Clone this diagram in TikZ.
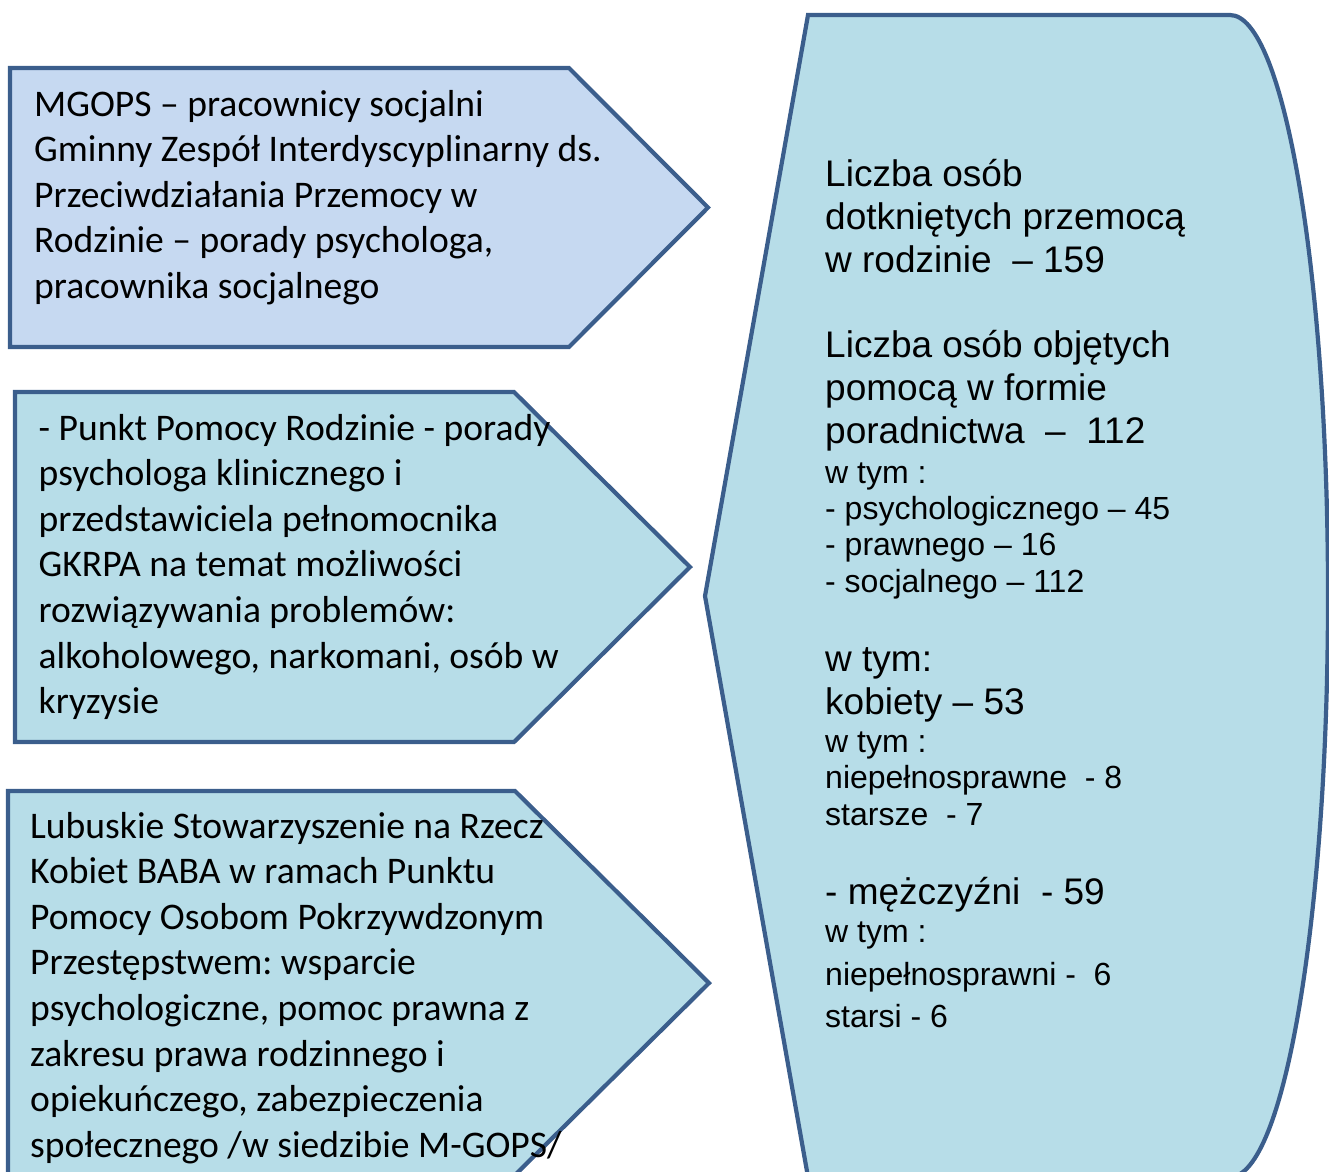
\documentclass[tikz,border=0pt]{standalone}
\usepackage{fontspec}
\setmainfont{Carlito}
\newfontfamily\arialf{Liberation Sans}
\frenchspacing
\definecolor{edgeblue}{RGB}{59,94,140}
\definecolor{fillone}{RGB}{198,217,241}
\definecolor{filltwo}{RGB}{183,221,232}
\tikzset{
  shapebox/.style={draw=edgeblue, line width=4.2pt, line join=miter},
  lefttext/.style={inner sep=0pt, anchor=base west, font=\fontsize{37.6}{45.6}\selectfont},
  bigtext/.style={inner sep=0pt, anchor=base west, font=\arialf\fontsize{37}{43}\selectfont},
  smalltext/.style={inner sep=0pt, anchor=base west, font=\arialf\fontsize{32}{37}\selectfont}
}
\begin{document}
\begin{tikzpicture}[x=1pt,y=1pt]
\useasboundingbox (0,0) rectangle (1329,-1171);
\begin{scope}
\clip (0,0) rectangle (1329,-1171);
% box 1
\draw[shapebox, fill=fillone] (10,-68) -- (569,-68) -- (708,-207.5) -- (569,-347) -- (10,-347) -- cycle;
% box 2
\draw[shapebox, fill=filltwo] (15,-392) -- (514,-392) -- (690,-567) -- (514,-742) -- (15,-742) -- cycle;
% box 3
\draw[shapebox, fill=filltwo] (8,-791) -- (515,-791) -- (709,-983) -- (515,-1175) -- (8,-1175) -- cycle;
% right shape
\draw[shapebox, fill=filltwo] (808,-15) -- (1230,-15) arc[start angle=90, end angle=-90, x radius=98, y radius=581] -- (808,-1177) -- (705,-596) -- cycle;
\end{scope}

\node[lefttext] (b1) at (34,-116) {\begin{minipage}[t]{640pt}\raggedright\frenchspacing
MGOPS – pracownicy socjalni\\
Gminny Zespół Interdyscyplinarny ds.\\
Przeciwdziałania Przemocy w\\
Rodzinie – porady psychologa,\\
pracownika socjalnego\end{minipage}};

\node[lefttext] (b2) at (38.5,-440) {\begin{minipage}[t]{640pt}\raggedright\frenchspacing
- Punkt Pomocy Rodzinie - porady\\
psychologa klinicznego i\\
przedstawiciela pełnomocnika\\
GKRPA na temat możliwości\\
rozwiązywania problemów:\\
alkoholowego, narkomani, osób w\\
kryzysie\end{minipage}};

\node[lefttext] (b3) at (30,-838) {\begin{minipage}[t]{640pt}\raggedright\frenchspacing
Lubuskie Stowarzyszenie na Rzecz\\
Kobiet BABA w ramach Punktu\\
Pomocy Osobom Pokrzywdzonym\\
Przestępstwem: wsparcie\\
psychologiczne, pomoc prawna z\\
zakresu prawa rodzinnego i\\
opiekuńczego, zabezpieczenia\\
społecznego /w siedzibie M-GOPS/\end{minipage}};

% right texts
\node[bigtext] (r1) at (825,-186) {Liczba osób};
\node[bigtext] (r2) at (825,-229) {dotkniętych przemocą};
\node[bigtext] (r3) at (825,-272) {w rodzinie~ – 159};
\node[bigtext] (r4) at (825,-357) {Liczba osób objętych};
\node[bigtext] (r5) at (825,-400) {pomocą w formie};
\node[bigtext] (r6) at (825,-443) {poradnictwa~ –~ 112};
\node[smalltext] (r7) at (825,-483) {w tym :};
\node[smalltext] (r8) at (825,-519) {- psychologicznego – 45};
\node[smalltext] (r9) at (825,-555) {- prawnego – 16};
\node[smalltext] (r10) at (825,-592) {- socjalnego – 112};
\node[bigtext] (r11) at (825,-671.5) {w tym:};
\node[bigtext] (r12) at (825,-714) {kobiety – 53};
\node[smalltext] (r13) at (825,-752) {w tym :};
\node[smalltext] (r14) at (825,-788) {niepełnosprawne~ - 8};
\node[smalltext] (r15) at (825,-825) {starsze~ - 7};
\node[bigtext] (r16) at (825,-904) {- mężczyźni~ - 59};
\node[smalltext] (r17) at (825,-942) {w tym :};
\node[smalltext] (r18) at (825,-985) {niepełnosprawni -~ 6};
\node[smalltext] (r19) at (825,-1027) {starsi - 6};
\end{tikzpicture}
\end{document}
